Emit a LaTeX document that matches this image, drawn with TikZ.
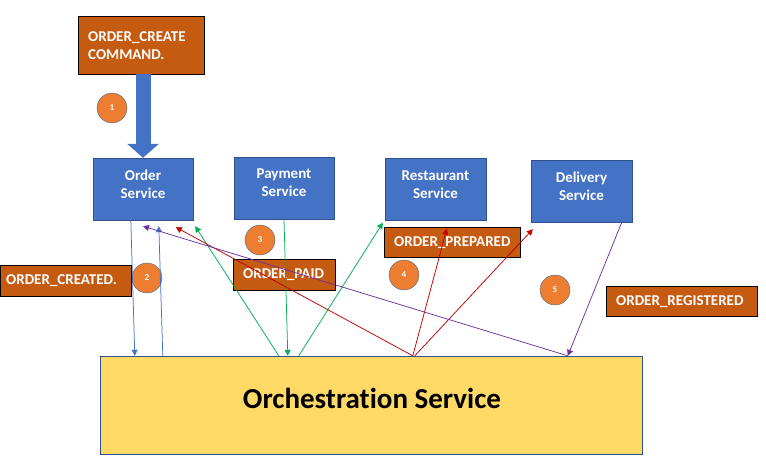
\documentclass[tikz,border=0pt]{standalone}
\usepackage{fontspec}
\setmainfont{Carlito}[Ligatures=NoCommon]
\usetikzlibrary{arrows.meta}
\definecolor{svcblue}{HTML}{4472C4}
\definecolor{svcline}{HTML}{2F528F}
\definecolor{evtorange}{HTML}{C55A11}
\definecolor{numorange}{HTML}{ED7D31}
\definecolor{numline}{HTML}{41719C}
\definecolor{orchyellow}{HTML}{FFD966}
\definecolor{msgpurple}{HTML}{7030A0}
\definecolor{msgred}{HTML}{C00000}
\definecolor{msggreen}{HTML}{00B050}
\tikzset{
  svc/.style={draw=svcline, fill=svcblue, text=white, align=center,
    font=\bfseries\fontsize{15}{18}\selectfont, text depth=10pt,
    minimum width=100pt, minimum height=62pt, inner sep=0pt},
  evt/.style={draw=black, fill=evtorange, text=white, align=left,
    font=\bfseries\fontsize{15}{18}\selectfont,
    anchor=north west, inner xsep=10pt, inner ysep=0pt, minimum height=30pt},
  num/.style={circle, draw=numline, fill=numorange, text=white,
    font=\bfseries\fontsize{9}{10}\selectfont, minimum size=30pt, inner sep=0pt},
  msg/.style={line width=0.75pt, -{Triangle[length=6pt,width=6pt]}}
}
\begin{document}
\begin{tikzpicture}[x=1pt,y=-1pt]
  \useasboundingbox (0,0) rectangle (766,474);
  \node[svc] (order) at (143,189) {Order\\Service};
  \node[svc] (payment) at (284,188) {Payment\\Service};
  \node[svc, minimum width=101pt] (restaurant) at (435.5,189.5) {Restaurant\\Service};
  \node[svc, minimum width=101pt] (delivery) at (581.5,191) {Delivery\\Service};
  \node[draw=svcline, fill=orchyellow, minimum width=542pt, minimum height=98pt] (orch) at (371,405) {};
  \node[font=\bfseries\fontsize{29}{34}\selectfont] (orchtext) at (372,398) {Orchestration Service};
  \node[evt, text width=106pt, minimum height=58pt] (cmd) at (78,16) {ORDER\_CREATE\\COMMAND.};
  \node[evt, inner xsep=6pt, text width=119pt, minimum height=31pt] (created) at (0,265) {ORDER\_CREATED.};
  \node[evt, text width=82pt, minimum height=31pt] (paid) at (233,259) {ORDER\_PAID};
  \node[evt, text width=116pt] (prepared) at (384,227) {ORDER\_PREPARED};
  \node[evt, text width=131pt] (registered) at (606,286) {ORDER\_REGISTERED};
  \node[num] (n1) at (112,108) {1};
  \node[num] (n2) at (147,278) {2};
  \node[num] (n3) at (260,240) {3};
  \node[num] (n4) at (404,275) {4};
  \node[num] (n5) at (555,290) {5};
  \coordinate (o1) at ([xshift=35pt]orch.north west);
  \coordinate (o2) at ([xshift=63pt]orch.north west);
  \coordinate (o3) at ([xshift=179pt]orch.north west);
  \coordinate (o4) at ([xshift=188pt]orch.north west);
  \coordinate (o5) at ([xshift=199pt]orch.north west);
  \coordinate (o6) at ([xshift=313pt]orch.north west);
  \coordinate (o7) at ([xshift=315pt]orch.north west);
  \coordinate (o8) at ([xshift=468pt]orch.north west);
  \draw[svcblue, line width=15pt, -{Triangle[length=14pt,width=31pt]}] (order.north |- cmd.south) -- (order.north);
  \draw[msg, svcblue] ([xshift=38pt]order.south west) -- (o1);
  \draw[msg, svcblue] (o2) -- ([xshift=66pt,yshift=-6pt]order.south west);
  \draw[msg, msggreen] (o3) -- ([xshift=2pt,yshift=-6pt]order.south east);
  \draw[msg, msggreen] (payment.south) -- (o4);
  \draw[msg, msggreen] (o5) -- ([xshift=-2pt,yshift=-2pt]restaurant.south west);
  \draw[msg, msgred] (o6) -- ([xshift=83pt,yshift=-7pt]order.south west);
  \draw[msg, msgred] (o6) -- ([xshift=62pt,yshift=-8pt]restaurant.south west);
  \draw[msg, msgred] (o7) -- ([xshift=2pt,yshift=-7pt]delivery.south west);
  \draw[msg, msgpurple] ([xshift=91pt]delivery.south west) -- (o8);
  \draw[msg, msgpurple] (o8) -- ([yshift=-6pt]order.south);
\end{tikzpicture}
\end{document}
